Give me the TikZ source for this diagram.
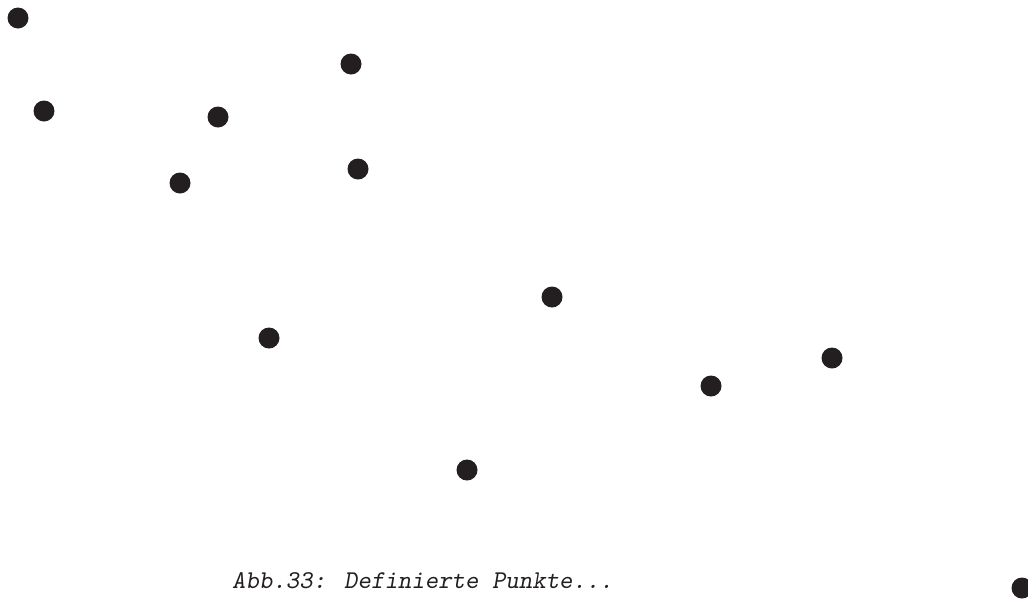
\documentclass[tikz,border=0pt]{standalone}
\usepackage{tikz}
\usetikzlibrary{positioning}
\definecolor{punktfarbe}{RGB}{35,31,32}
\tikzset{
  punkt/.style     = {circle, fill=punktfarbe, inner sep=0pt, minimum size=21pt},
  caption/.style   = {font=\ttfamily\slshape\fontsize{25.6}{30}\selectfont,
                      text=punktfarbe, inner sep=0pt, anchor=base west},
}

\begin{document}
\begin{tikzpicture}[x=1pt,y=-1pt]
  \useasboundingbox (0,0) rectangle (1028,598);

  % definierte Punkte
  \node[punkt] (p1)  at (18,18)    {};
  \node[punkt] (p2)  at (351,64)   {};
  \node[punkt] (p3)  at (44,111)   {};
  \node[punkt] (p4)  at (218,117)  {};
  \node[punkt] (p5)  at (358,169)  {};
  \node[punkt] (p6)  at (180,183)  {};
  \node[punkt] (p7)  at (552,297)  {};
  \node[punkt] (p8)  at (269,338)  {};
  \node[punkt] (p9)  at (832,358)  {};
  \node[punkt] (p10) at (711,386)  {};
  \node[punkt] (p11) at (467,470)  {};
  \node[punkt] (p12) at (1022,588) {};

  % Bildunterschrift
  \node[caption] (cap) at (232,588) {Abb.33: Definierte Punkte...};
\end{tikzpicture}
\end{document}
